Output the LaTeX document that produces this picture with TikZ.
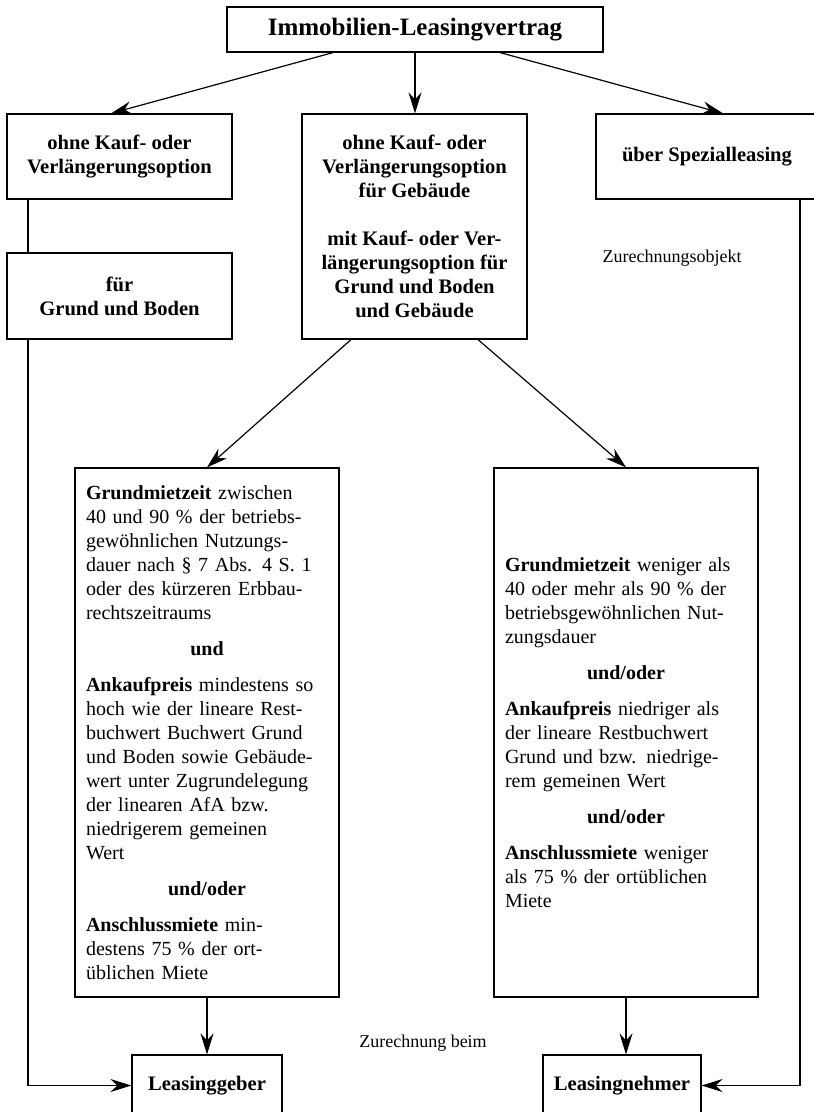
\documentclass[tikz,border=0pt]{standalone}
\usepackage{fontspec}
\setmainfont{Liberation Serif}
\usetikzlibrary{arrows.meta}
\newcommand{\verknuepfung}[1]{\makebox[\hsize]{\textbf{#1}}}

\begin{document}
\begin{tikzpicture}[x=0.5pt,y=-0.5pt,>={Stealth[length=10.5pt,width=6.5pt,inset=3.5pt]},
                    line width=0.6pt,font=\fontsize{10.3}{12}\selectfont,
                    main node/.style={rectangle,draw,align=center,
                      font=\fontsize{10.3}{12}\selectfont\bfseries},
                    cond node/.style={rectangle,draw,text width=121pt,align=left,
                      inner xsep=5.5pt,minimum height=264.5pt,
                      font=\fontsize{10}{12}\selectfont},
                    side label/.style={font=\fontsize{9}{11}\selectfont}]
  \useasboundingbox (0,0) rectangle (813,1112);
  \node[main node,minimum width=188pt,minimum height=22.5pt,
        font=\fontsize{12.5}{15}\selectfont\bfseries] (vertrag) at (415,29.5)
    {Immobilien-Leasingvertrag};
  \node[main node,minimum width=112.5pt,minimum height=42.5pt] (ohne) at (119.5,156.5)
    {ohne Kauf- oder\\Verlängerungsoption};
  \node[main node,minimum width=112.5pt,minimum height=112.5pt] (mitte) at (414.5,226.5)
    {ohne Kauf- oder\\Verlängerungsoption\\für Gebäude\\[12pt]mit Kauf- oder Ver-\\längerungsoption für\\Grund und Boden\\und Gebäude};
  \node[main node,minimum width=111pt,minimum height=42.5pt] (spezial) at (707,156.5)
    {über Spezialleasing};
  \node[main node,minimum width=112.5pt,minimum height=43pt] (fuer) at (119.5,296)
    {für\\Grund und Boden};
  \node[cond node] (geberfall) at (207,732.5)
    {\textbf{Grundmietzeit} zwischen\\40 und 90 \% der betriebs-\\gewöhnlichen Nutzungs-\\dauer nach § 7 Abs. 4 S. 1\\oder des kürzeren Erbbau-\\rechtszeitraums\\[6pt]
     \verknuepfung{und}\\[6pt]
     \textbf{Ankaufpreis} mindestens so\\hoch wie der lineare Rest-\\buchwert Buchwert Grund\\und Boden sowie Gebäude-\\wert unter Zugrundelegung\\der linearen AfA bzw.\\niedrigerem gemeinen\\Wert\\[6pt]
     \verknuepfung{und/oder}\\[6pt]
     \textbf{Anschlussmiete} min-\\destens 75 \% der ort-\\üblichen Miete};
  \node[cond node] (nehmerfall) at (626,732.5)
    {\textbf{Grundmietzeit} weniger als\\40 oder mehr als 90 \% der\\betriebsgewöhnlichen Nut-\\zungsdauer\\[6pt]
     \verknuepfung{und/oder}\\[6pt]
     \textbf{Ankaufpreis} niedriger als\\der lineare Restbuchwert\\Grund und bzw. niedrige-\\rem gemeinen Wert\\[6pt]
     \verknuepfung{und/oder}\\[6pt]
     \textbf{Anschlussmiete} weniger\\als 75 \% der ortüblichen\\Miete};
  \node[main node,minimum width=75pt,minimum height=30.5pt] (geber) at (207,1085.5)
    {Leasinggeber};
  \node[main node,minimum width=79pt,minimum height=30.5pt] (nehmer) at (622,1085.5)
    {Leasingnehmer};
  \node[side label] (objekt) at (672,258) {Zurechnungsobjekt};
  \node[side label] (beim) at (423,1043) {Zurechnung beim};
  \path[->]
    ([xshift=-41pt]vertrag.south) edge ([xshift=-4.25pt]ohne.north)
    (vertrag.south) edge (vertrag.south |- mitte.north)
    ([xshift=42.5pt]vertrag.south) edge ([xshift=8pt]spezial.north)
    ([xshift=-31.75pt]mitte.south) edge (geberfall.north)
    ([xshift=31.75pt]mitte.south) edge (nehmerfall.north)
    (geberfall.south) edge (geberfall.south |- geber.north)
    (nehmerfall.south) edge (nehmerfall.south |- nehmer.north)
    ;
  \draw ([xshift=-45.75pt]ohne.south) -- ([xshift=-45.75pt]fuer.north);
  \draw[->] ([xshift=-45.75pt]fuer.south) |- (geber);
  \draw[->] ([xshift=46.5pt]spezial.south) |- (nehmer);
\end{tikzpicture}
\end{document}
